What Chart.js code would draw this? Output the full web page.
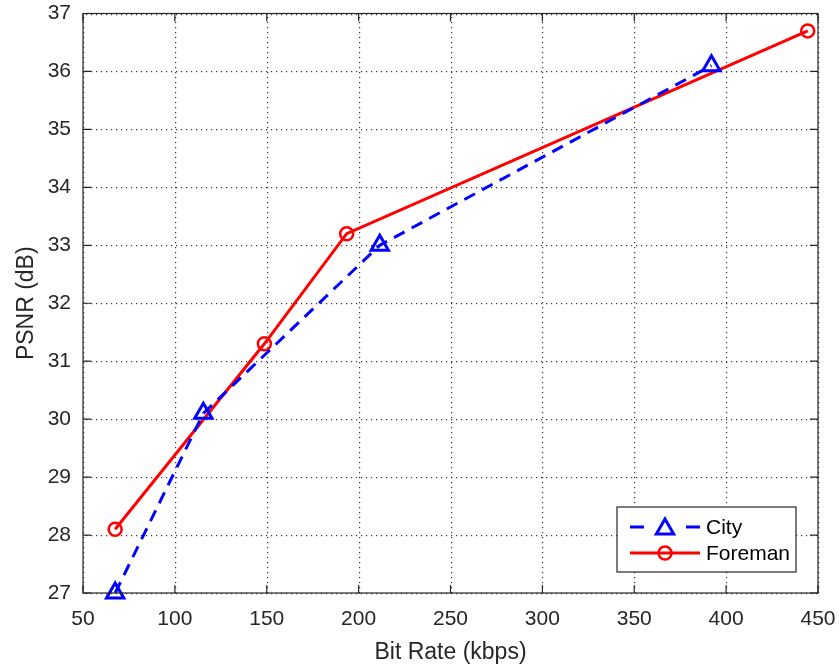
<!DOCTYPE html>
<html>
<head>
<meta charset="utf-8">
<script src="https://cdn.jsdelivr.net/npm/chart.js@4.4.1/dist/chart.umd.min.js"></script>
<style>
  body { margin: 0; background: #fff; }
  #wrap { width: 839px; height: 672px; }
</style>
</head>
<body>
<div id="wrap"><canvas id="psnrChart"></canvas></div>
<script>
// values
const seriesNames = ['City', 'Foreman'];
const bitRateCity = [67.5, 115.5, 211.5, 392];
const psnrCity = [27.0, 30.1, 33.0, 36.1];
const bitRateForeman = [67.5, 148.7, 193.5, 444.4];
const psnrForeman = [28.1, 31.3, 33.2, 36.7];
const xTicks = [50, 100, 150, 200, 250, 300, 350, 400, 450];
const yTicks = [27, 28, 29, 30, 31, 32, 33, 34, 35, 36, 37];

const toPoints = (xs, ys) => xs.map((x, i) => ({ x: x, y: ys[i] }));

const FONT = 'Liberation Sans, Arial, Helvetica, sans-serif';
const AXIS_COLOR = '#262626';

// dotted grid, drawn under the lines
const gridPlugin = {
    id: 'gridPlugin',
    beforeDatasetsDraw(chart) {
        const ctx = chart.ctx;
        const a = chart.chartArea;
        const xs = chart.scales.x, ys = chart.scales.y;
        ctx.save();
        ctx.fillStyle = 'rgba(30,30,30,0.9)';
        xTicks.forEach(v => {
            const p = Math.round(xs.getPixelForValue(v));
            for (let y = a.top + 3; y < a.bottom; y += 5) ctx.fillRect(p, Math.round(y), 1.2, 1.2);
        });
        yTicks.forEach(v => {
            const p = Math.round(ys.getPixelForValue(v));
            for (let x = a.left + 3; x < a.right; x += 5) ctx.fillRect(Math.round(x), p, 1.2, 1.2);
        });
        ctx.restore();
    }
};

// MATLAB style box with inward ticks + legend box
const boxPlugin = {
    id: 'boxPlugin',
    afterDraw(chart) {
        const ctx = chart.ctx;
        const a = chart.chartArea;
        const xs = chart.scales.x, ys = chart.scales.y;
        const tl = 8;
        ctx.save();
        ctx.strokeStyle = AXIS_COLOR;
        ctx.lineWidth = 1.2;
        ctx.setLineDash([]);
        ctx.strokeRect(a.left, a.top, a.right - a.left, a.bottom - a.top);
        ctx.beginPath();
        xTicks.forEach(v => {
            const p = xs.getPixelForValue(v);
            ctx.moveTo(p, a.bottom); ctx.lineTo(p, a.bottom - tl);
            ctx.moveTo(p, a.top); ctx.lineTo(p, a.top + tl);
        });
        yTicks.forEach(v => {
            const p = ys.getPixelForValue(v);
            ctx.moveTo(a.left, p); ctx.lineTo(a.left + tl, p);
            ctx.moveTo(a.right, p); ctx.lineTo(a.right - tl, p);
        });
        ctx.stroke();

        // legend
        const w = 179, h = 65;
        const bx = a.right - 22 - w, by = a.bottom - 21 - h;
        ctx.fillStyle = '#fff';
        ctx.fillRect(bx, by, w, h);
        ctx.strokeStyle = AXIS_COLOR;
        ctx.lineWidth = 1.2;
        ctx.strokeRect(bx, by, w, h);
        chart.data.datasets.forEach((ds, i) => {
            const yy = by + 20 + i * 26;
            ctx.strokeStyle = ds.borderColor;
            ctx.lineWidth = ds.borderWidth;
            ctx.beginPath();
            if (ds.borderDash && ds.borderDash.length) {
                ctx.moveTo(bx + 13, yy); ctx.lineTo(bx + 27, yy);
                ctx.moveTo(bx + 69, yy); ctx.lineTo(bx + 83, yy);
            } else {
                ctx.moveTo(bx + 13, yy); ctx.lineTo(bx + 83, yy);
            }
            ctx.stroke();
            ctx.lineWidth = ds.pointBorderWidth;
            ctx.fillStyle = 'rgba(0,0,0,0)';
            Chart.helpers.drawPoint(ctx, {
                pointStyle: ds.pointStyle,
                radius: ds.pointRadius,
                borderWidth: ds.pointBorderWidth,
                rotation: 0
            }, bx + 48, yy + (ds.pointStyle === 'triangle' ? 2 : 0));
            ctx.fillStyle = '#000';
            ctx.font = '21px ' + FONT;
            ctx.textBaseline = 'middle';
            ctx.textAlign = 'left';
            ctx.fillText(ds.label, bx + 89, yy + 1);
        });
        ctx.restore();
    }
};

new Chart(document.getElementById('psnrChart'), {
    type: 'scatter',
    data: {
        datasets: [{
            label: seriesNames[0],
            data: toPoints(bitRateCity, psnrCity),
            showLine: true,
            borderColor: '#0000ff',
            borderWidth: 3,
            borderDash: [12, 8],
            pointStyle: 'triangle',
            pointRadius: 10,
            pointBorderWidth: 3,
            pointBorderColor: '#0000ff',
            pointBackgroundColor: 'rgba(0,0,0,0)',
            clip: false,
            tension: 0
        }, {
            label: seriesNames[1],
            data: toPoints(bitRateForeman, psnrForeman),
            showLine: true,
            borderColor: '#ff0000',
            borderWidth: 3,
            borderDash: [],
            pointStyle: 'circle',
            pointRadius: 6.5,
            pointBorderWidth: 2.5,
            pointBorderColor: '#ff0000',
            pointBackgroundColor: 'rgba(0,0,0,0)',
            clip: false,
            tension: 0
        }]
    },
    options: {
        responsive: true,
        maintainAspectRatio: false,
        animation: false,
        layout: { padding: { top: 13.5, right: 21, left: 0, bottom: 0 } },
        plugins: { legend: { display: false }, tooltip: { enabled: false } },
        scales: {
            x: {
                type: 'linear',
                min: 50, max: 450,
                afterFit: s => { s.height = 79; s.paddingLeft = 0; s.paddingRight = 0; },
                afterBuildTicks: s => { s.ticks = xTicks.map(v => ({ value: v })); },
                ticks: { color: AXIS_COLOR, font: { family: FONT, size: 21 }, padding: 14, maxRotation: 0 },
                grid: { display: false, drawTicks: false },
                border: { display: false },
                title: { display: true, text: 'Bit Rate (kbps)', color: AXIS_COLOR,
                         font: { family: FONT, size: 23 }, padding: { top: 6, bottom: 6 } }
            },
            y: {
                type: 'linear',
                min: 27, max: 37,
                afterFit: s => { s.width = 83; s.paddingTop = 0; s.paddingBottom = 0; },
                afterBuildTicks: s => { s.ticks = yTicks.map(v => ({ value: v })); },
                ticks: { color: AXIS_COLOR, font: { family: FONT, size: 21 }, padding: 12 },
                grid: { display: false, drawTicks: false },
                border: { display: false },
                title: { display: true, text: 'PSNR (dB)', color: AXIS_COLOR,
                         font: { family: FONT, size: 23 }, padding: { top: 13, bottom: 13 } }
            }
        }
    },
    plugins: [gridPlugin, boxPlugin]
});
</script>
</body>
</html>
